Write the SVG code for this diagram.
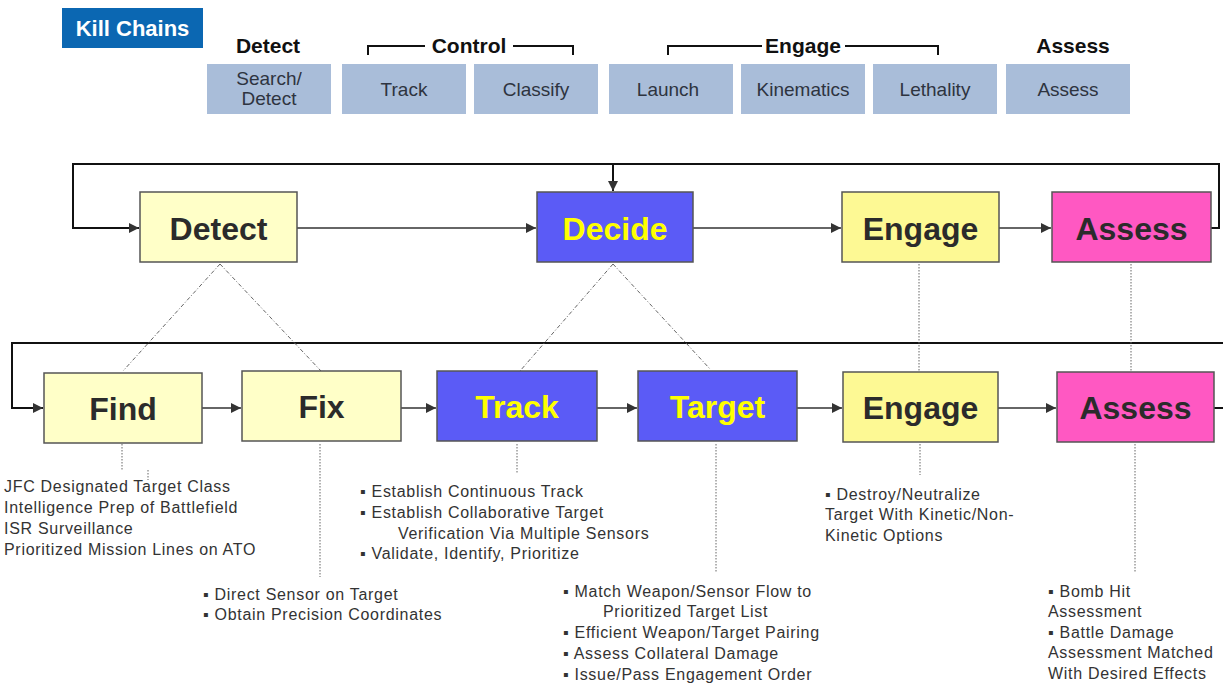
<svg xmlns="http://www.w3.org/2000/svg" width="1223" height="696" viewBox="0 0 1223 696">
  <style>
    .hdr { font-family: "Liberation Sans", Arial, sans-serif; font-weight: bold; font-size: 21px; fill: #111; text-anchor: middle; }
    .phase { fill: #a9bdd9; }
    .phase-t { font-family: "Liberation Sans", Arial, sans-serif; font-size: 19px; fill: #2e3440; text-anchor: middle; }
    .node rect { stroke: #555; stroke-width: 1.5; }
    .lbl { font-family: "Liberation Sans", Arial, sans-serif; font-weight: bold; font-size: 32px; text-anchor: middle; }
    .dark { fill: #2b2b2b; }
    .ylw { fill: #ffff00; }
    .pale { fill: #ffffc8; }
    .yel { fill: #fdf994; }
    .blue { fill: #5b5bf6; }
    .pink { fill: #ff58c2; }
    .flow { stroke: #333; stroke-width: 1.6; fill: none; }
    .loop { stroke: #111; stroke-width: 2; fill: none; }
    .dd { stroke: #666; stroke-width: 1; fill: none; stroke-dasharray: 4 2 1 2; }
    .dot { stroke: #666; stroke-width: 1; fill: none; stroke-dasharray: 1.5 1.5; }
    .note { font-family: "Liberation Sans", Arial, sans-serif; font-size: 16px; letter-spacing: 0.7px; fill: #333; }
  </style>
  <defs>
    <marker id="ah" viewBox="0 0 10 10" refX="10" refY="5" markerWidth="10" markerHeight="10" markerUnits="userSpaceOnUse" orient="auto">
      <path d="M0,0 L10,5 L0,10 z" fill="#333"/>
    </marker>
  </defs>

  <rect width="1223" height="696" fill="#ffffff"/>

  <!-- title tab -->
  <g id="title">
    <rect x="62" y="8" width="141" height="40" fill="#0b67b2"/>
    <text x="132.5" y="36" font-family="Liberation Sans, Arial, sans-serif" font-weight="bold" font-size="22" fill="#ffffff" text-anchor="middle">Kill Chains</text>
  </g>

  <!-- phase headers -->
  <g id="headers">
    <text class="hdr" x="268" y="53">Detect</text>
    <text class="hdr" x="469" y="53">Control</text>
    <text class="hdr" x="803" y="53">Engage</text>
    <text class="hdr" x="1073" y="53">Assess</text>
    <path d="M368,55 V46 H425 M513,46 H573 V55" stroke="#111" stroke-width="2" fill="none"/>
    <path d="M668,55 V46 H762 M845,46 H938 V55" stroke="#111" stroke-width="2" fill="none"/>
  </g>

  <g id="phases">
    <rect class="phase" x="207" y="64" width="124" height="50"/>
    <text class="phase-t" x="269" y="85">Search/</text>
    <text class="phase-t" x="269" y="105">Detect</text>
    <rect class="phase" x="342" y="64" width="124" height="50"/>
    <text class="phase-t" x="404" y="96">Track</text>
    <rect class="phase" x="474" y="64" width="124" height="50"/>
    <text class="phase-t" x="536" y="96">Classify</text>
    <rect class="phase" x="609" y="64" width="124" height="50"/>
    <text class="phase-t" x="668" y="96">Launch</text>
    <rect class="phase" x="741" y="64" width="124" height="50"/>
    <text class="phase-t" x="803" y="96">Kinematics</text>
    <rect class="phase" x="873" y="64" width="124" height="50"/>
    <text class="phase-t" x="935" y="96">Lethality</text>
    <rect class="phase" x="1006" y="64" width="124" height="50"/>
    <text class="phase-t" x="1068" y="96">Assess</text>
  </g>

  <!-- connectors -->
  <g id="connectors">
    <!-- upper loop -->
    <path class="loop" d="M1211,228 H1219 V164 H73 V228 H139" marker-end="url(#ah)"/>
    <path class="loop" d="M613,164 V191" marker-end="url(#ah)"/>
    <path class="flow" d="M297,228 H536" marker-end="url(#ah)"/>
    <path class="flow" d="M693,228 H841" marker-end="url(#ah)"/>
    <path class="flow" d="M999,228 H1051" marker-end="url(#ah)"/>
    <!-- lower loop -->
    <path class="loop" d="M1223,343 H12 V408 H43" marker-end="url(#ah)"/>
    <path class="loop" d="M1214,408 H1223"/>
    <path class="flow" d="M202,408 H241" marker-end="url(#ah)"/>
    <path class="flow" d="M401,408 H436" marker-end="url(#ah)"/>
    <path class="flow" d="M597,408 H637" marker-end="url(#ah)"/>
    <path class="flow" d="M797,408 H842" marker-end="url(#ah)"/>
    <path class="flow" d="M998,408 H1056" marker-end="url(#ah)"/>
    <!-- decomposition links -->
    <path class="dd" d="M220,264 L123,371"/>
    <path class="dd" d="M220,264 L321,371"/>
    <path class="dd" d="M613,264 L520,371"/>
    <path class="dd" d="M613,264 L710,369"/>
    <path class="dot" d="M919,264 V371"/>
    <path class="dot" d="M1131,264 V371"/>
    <!-- leaders to notes -->
    <path class="dot" d="M122,444 V470"/>
    <path class="dot" d="M148,470 V480"/>
    <path class="dot" d="M320,444 V577"/>
    <path class="dot" d="M517,444 V474"/>
    <path class="dot" d="M716,444 V573"/>
    <path class="dot" d="M920,444 V475"/>
    <path class="dot" d="M1135,444 V572"/>
  </g>

  <!-- upper row -->
  <g id="n-detect" class="node">
    <rect class="pale" x="140" y="192" width="157" height="70"/>
    <text class="lbl dark" x="218.5" y="240">Detect</text>
  </g>
  <g id="n-decide" class="node">
    <rect class="blue" x="537" y="192" width="156" height="70"/>
    <text class="lbl ylw" x="615" y="240">Decide</text>
  </g>
  <g id="n-engage" class="node">
    <rect class="yel" x="842" y="192" width="157" height="70"/>
    <text class="lbl dark" x="920.5" y="240">Engage</text>
  </g>
  <g id="n-assess" class="node">
    <rect class="pink" x="1052" y="192" width="159" height="70"/>
    <text class="lbl dark" x="1131.5" y="240">Assess</text>
  </g>

  <!-- lower row -->
  <g id="n-find" class="node">
    <rect class="pale" x="44" y="373" width="158" height="70"/>
    <text class="lbl dark" x="123" y="420">Find</text>
  </g>
  <g id="n-fix" class="node">
    <rect class="pale" x="242" y="371" width="159" height="70"/>
    <text class="lbl dark" x="321.5" y="418">Fix</text>
  </g>
  <g id="n-track" class="node">
    <rect class="blue" x="437" y="371" width="160" height="70"/>
    <text class="lbl ylw" x="517" y="418">Track</text>
  </g>
  <g id="n-target" class="node">
    <rect class="blue" x="638" y="371" width="159" height="70"/>
    <text class="lbl ylw" x="717.5" y="418">Target</text>
  </g>
  <g id="n-engage2" class="node">
    <rect class="yel" x="843" y="372" width="155" height="70"/>
    <text class="lbl dark" x="920.5" y="419">Engage</text>
  </g>
  <g id="n-assess2" class="node">
    <rect class="pink" x="1057" y="372" width="157" height="70"/>
    <text class="lbl dark" x="1135.5" y="419">Assess</text>
  </g>

  <!-- notes -->
  <g id="notes-find" class="note">
    <text x="4" y="492">JFC Designated Target Class</text>
    <text x="4" y="513">Intelligence Prep of Battlefield</text>
    <text x="4" y="534">ISR Surveillance</text>
    <text x="4" y="555">Prioritized Mission Lines on ATO</text>
  </g>
  <g id="notes-fix" class="note">
    <text x="203" y="600">▪ Direct Sensor on Target</text>
    <text x="203" y="620">▪ Obtain Precision Coordinates</text>
  </g>
  <g id="notes-track" class="note">
    <text x="360" y="497">▪ Establish Continuous Track</text>
    <text x="360" y="518">▪ Establish Collaborative Target</text>
    <text x="398" y="539">Verification Via Multiple Sensors</text>
    <text x="360" y="559">▪ Validate, Identify, Prioritize</text>
  </g>
  <g id="notes-target" class="note">
    <text x="563" y="597">▪ Match Weapon/Sensor Flow to</text>
    <text x="603" y="617">Prioritized Target List</text>
    <text x="563" y="638">▪ Efficient Weapon/Target Pairing</text>
    <text x="563" y="659">▪ Assess Collateral Damage</text>
    <text x="563" y="680">▪ Issue/Pass Engagement Order</text>
  </g>
  <g id="notes-engage" class="note">
    <text x="825" y="500">▪ Destroy/Neutralize</text>
    <text x="825" y="520">Target With Kinetic/Non-</text>
    <text x="825" y="541">Kinetic Options</text>
  </g>
  <g id="notes-assess" class="note">
    <text x="1048" y="597">▪ Bomb Hit</text>
    <text x="1048" y="617">Assessment</text>
    <text x="1048" y="638">▪ Battle Damage</text>
    <text x="1048" y="658">Assessment Matched</text>
    <text x="1048" y="679">With Desired Effects</text>
  </g>
</svg>
